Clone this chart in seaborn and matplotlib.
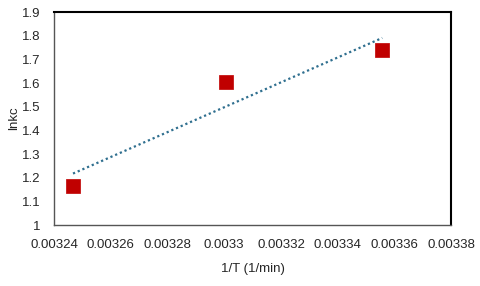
import pandas as pd
import matplotlib.pyplot as plt
import seaborn as sns

# data
inv_T = [0.0032467, 0.0033006, 0.0033557]
ln_kc = [1.165, 1.605, 1.739]

x_ticks = [0.00324, 0.00326, 0.00328, 0.0033, 0.00332, 0.00334, 0.00336, 0.00338]
x_tick_labels = ['0.00324', '0.00326', '0.00328', '0.0033', '0.00332', '0.00334', '0.00336', '0.00338']
y_ticks = [1, 1.1, 1.2, 1.3, 1.4, 1.5, 1.6, 1.7, 1.8, 1.9]
y_tick_labels = ['1', '1.1', '1.2', '1.3', '1.4', '1.5', '1.6', '1.7', '1.8', '1.9']

df = pd.DataFrame({'1/T': inv_T, 'lnkc': ln_kc})

sns.set_style('white')
plt.rcParams['font.family'] = ['Liberation Sans', 'DejaVu Sans']

fig = plt.figure(figsize=(4.8, 2.86), dpi=100)
ax = fig.add_axes([0.1125, 0.213, 0.8275, 0.745])

# linear trendline (dotted)
sns.regplot(data=df, x='1/T', y='lnkc', ax=ax, scatter=False, ci=None, truncate=True,
            line_kws={'color': '#2f6f8f', 'linestyle': (0, (1, 1.3)), 'linewidth': 1.6})
sns.scatterplot(data=df, x='1/T', y='lnkc', ax=ax, marker='s', s=95, color='#c00000',
                edgecolor='#c00000', linewidth=0.5, zorder=3)

ax.set_xlim(0.00324, 0.00338)
ax.set_ylim(1, 1.9)
ax.set_xticks(x_ticks)
ax.set_xticklabels(x_tick_labels, fontsize=9.5)
ax.set_yticks(y_ticks)
ax.set_yticklabels(y_tick_labels, fontsize=9.5)
ax.tick_params(axis='x', length=0, pad=10)
ax.tick_params(axis='y', length=0, pad=10)
ax.set_xlabel('1/T (1/min)', fontsize=9.5, labelpad=9)
ax.set_ylabel('lnkc', fontsize=9.5, labelpad=1)

for side in ['top', 'right']:
    ax.spines[side].set_color('black')
    ax.spines[side].set_linewidth(1.5)
for side in ['left', 'bottom']:
    ax.spines[side].set_color('#555555')
    ax.spines[side].set_linewidth(1.0)

fig.savefig('out.png', dpi=100)
